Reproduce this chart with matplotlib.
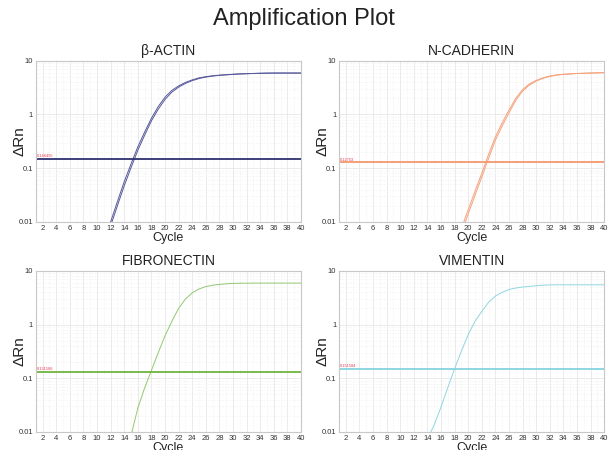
import numpy as np
import matplotlib.pyplot as plt
from matplotlib.ticker import FixedLocator, FixedFormatter, MultipleLocator, LogLocator, NullFormatter

plt.rcParams['font.family'] = ['Liberation Sans', 'DejaVu Sans']

# data
actin_cyc = [11, 12, 13, 14, 15, 16, 17, 18, 19, 20, 21, 22, 23, 24, 25, 26, 27, 28, 29, 30,
             31, 32, 33, 34, 35, 36, 37, 38, 39, 40]
actin_a = [0.0045, 0.01, 0.024, 0.056, 0.12, 0.25, 0.47, 0.85, 1.4, 2.1, 2.8, 3.4, 3.95, 4.4, 4.8,
           5.05, 5.25, 5.4, 5.5, 5.6, 5.7, 5.75, 5.8, 5.85, 5.88, 5.9, 5.9, 5.9, 5.9, 5.9]
actin_b = [0.0038, 0.0084, 0.02, 0.047, 0.102, 0.215, 0.41, 0.76, 1.25, 1.9, 2.6, 3.22, 3.78, 4.26, 4.66,
           4.96, 5.18, 5.34, 5.46, 5.57, 5.67, 5.73, 5.79, 5.84, 5.87, 5.89, 5.9, 5.9, 5.9, 5.9]

ncad_cyc = [19, 20, 21, 22, 23, 24, 25, 26, 27, 28, 29, 30, 31, 32, 33, 34, 35, 36, 37, 38, 39, 40]
ncad_a = [0.0075, 0.0168, 0.037, 0.08, 0.18, 0.38, 0.7, 1.2, 2.0, 2.9, 3.7, 4.3, 4.8, 5.2, 5.45,
          5.6, 5.7, 5.8, 5.85, 5.9, 5.95, 6.0]
ncad_b = [0.0062, 0.014, 0.031, 0.068, 0.152, 0.33, 0.61, 1.07, 1.82, 2.72, 3.52, 4.18, 4.7, 5.1, 5.38,
          5.56, 5.68, 5.78, 5.84, 5.9, 5.95, 6.0]

fibro_cyc = [15, 16, 17, 18, 19, 20, 21, 22, 23, 24, 25, 26, 27, 28, 29, 30, 31, 32, 33, 34, 35, 36,
             37, 38, 39, 40]
fibro_a = [0.0085, 0.028, 0.066, 0.14, 0.3, 0.62, 1.15, 2.0, 3.0, 3.9, 4.6, 5.1, 5.4, 5.6, 5.75,
           5.85, 5.9, 5.9, 5.92, 5.92, 5.93, 5.93, 5.93, 5.93, 5.93, 5.93]

vim_cyc = [14, 15, 16, 17, 18, 19, 20, 21, 22, 23, 24, 25, 26, 27, 28, 29, 30, 31, 32, 33, 34, 35,
           36, 37, 38, 39, 40]
vim_a = [0.0075, 0.0135, 0.029, 0.067, 0.15, 0.32, 0.65, 1.15, 1.75, 2.6, 3.4, 4.0, 4.5, 4.8, 5.0,
         5.15, 5.3, 5.4, 5.48, 5.5, 5.5, 5.5, 5.5, 5.5, 5.5, 5.5, 5.5]

thresholds = [0.146455, 0.12753, 0.131566, 0.151584]
titles = ['β-ACTIN', 'N-CADHERIN', 'FIBRONECTIN', 'VIMENTIN']

panels = [
    (actin_cyc, [actin_a, actin_b], '#56589a', '#2e3070'),
    (ncad_cyc, [ncad_a, ncad_b], '#f5a27c', '#f5996e'),
    (fibro_cyc, [fibro_a], '#92c870', '#6fb43f'),
    (vim_cyc, [vim_a], '#8ed6e0', '#86d3df'),
]

fig = plt.figure(figsize=(6.08, 4.5), dpi=100)
fig.suptitle('Amplification Plot', fontsize=17, y=0.982, color='#222222')

pos = [(0.059, 0.507), (0.5576, 0.507), (0.059, 0.04), (0.5576, 0.04)]
for i, (cyc, reps, col, tcol) in enumerate(panels):
    ax = fig.add_axes([pos[i][0], pos[i][1], 0.436, 0.358])
    for r in reps:
        ax.plot(cyc, r, color=col, lw=0.7)
    ax.axhline(thresholds[i], color=tcol, lw=1.3)
    ax.text(1.15, thresholds[i] * 1.04, '%g' % thresholds[i], color='#e8304a', fontsize=2.8,
            va='bottom', ha='left')
    ax.set_yscale('log')
    ax.set_xlim(1, 40)
    ax.set_ylim(0.01, 10)
    ax.yaxis.set_major_locator(FixedLocator([0.01, 0.1, 1, 10]))
    ax.yaxis.set_major_formatter(FixedFormatter(['0.01', '0.1', '1', '10']))
    ax.yaxis.set_minor_locator(LogLocator(base=10, subs=np.arange(2, 10)))
    ax.yaxis.set_minor_formatter(NullFormatter())
    ax.set_xticks(np.arange(2, 41, 2))
    ax.xaxis.set_minor_locator(MultipleLocator(1))
    ax.tick_params(which='both', length=0, labelsize=5.5, colors='#333333', pad=2)
    ax.grid(True, which='major', color='#e8e8e8', lw=0.6)
    ax.grid(True, which='minor', color='#f0f0f0', lw=0.5, ls=(0, (2, 2)))
    for s in ax.spines.values():
        s.set_color('#c8c8c8')
        s.set_linewidth(0.8)
    ax.set_title(titles[i], fontsize=10, pad=4, color='#222222')
    ax.set_xlabel('Cycle', fontsize=9, labelpad=0, color='#222222')
    ax.set_ylabel('ΔRn', fontsize=11, color='#222222')
    ax.yaxis.set_label_coords(-0.036, 0.5)

fig.savefig('out.png', dpi=100)
